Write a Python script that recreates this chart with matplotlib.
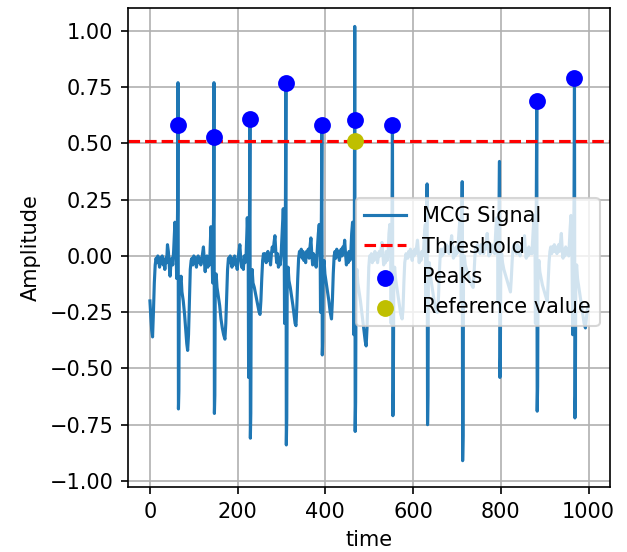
import matplotlib
matplotlib.use("Agg")
import matplotlib.pyplot as plt
import numpy as np

# ---- MCG signal as (time, amplitude) vertices, per beat ----
beat_01 = [(0,-0.20),(2,-0.27),(4,-0.33),(6,-0.36),(8,-0.25),(10,-0.12),(12,-0.04),(14,-0.01),(16,-0.03),(18,0.00),
           (20,-0.02),(22,-0.05),(24,-0.01),(26,-0.03),(28,0.00),(30,-0.04),(32,-0.02),(34,-0.06),(36,-0.01),(38,-0.03),
           (40,0.05),(42,0.02),(44,-0.04),(46,-0.09),(48,-0.03),(50,-0.01),(52,-0.04),(54,0.02),(56,0.10),(57,0.15),
           (59,0.08),(61,-0.10),(62,0.03),(63,0.20),(64,0.77),(65,-0.68),(66,-0.60),(67,-0.10),(69,-0.12),(71,-0.09),
           (73,-0.16),(76,-0.20),(79,-0.26),(82,-0.34),(84,-0.39),(86,-0.42),(88,-0.35),(90,-0.20),(92,-0.06),(94,-0.02)]
beat_02 = [(96,-0.01),(98,-0.04),(100,0.00),(102,-0.02),(104,-0.01),(106,-0.05),(108,-0.02),(110,0.00),(112,-0.03),
           (114,-0.01),(116,-0.04),(118,-0.02),(120,0.01),(122,0.04),(124,-0.02),(126,-0.07),(128,-0.02),(130,0.00),
           (132,-0.05),(134,-0.02),(136,-0.04),(138,0.08),(139,0.13),(141,0.06),(143,-0.12),(144,0.02),(145,0.18),
           (146,0.77),(147,-0.70),(148,-0.62),(149,-0.10),(151,-0.08),(153,-0.14),(156,-0.18),(159,-0.22),(162,-0.28),
           (165,-0.32),(168,-0.35),(171,-0.37),(173,-0.30),(175,-0.18),(177,-0.06),(179,-0.01)]
beat_03 = [(181,-0.03),(183,0.00),(185,-0.02),(187,-0.05),(189,-0.01),(191,-0.03),(193,0.00),(195,-0.04),(197,-0.02),
           (199,-0.06),(201,-0.01),(203,0.02),(205,0.05),(207,-0.01),(209,-0.05),(211,-0.02),(213,-0.06),(215,0.00),
           (217,-0.03),(219,-0.01),(221,0.10),(222,0.17),(224,0.05),(225,-0.54),(226,-0.10),(227,0.20),(228,0.61),
           (229,-0.81),(230,-0.70),(231,-0.12),(233,-0.06),(235,-0.12),(238,-0.14),(241,-0.17),(244,-0.20),(247,-0.23),
           (249,-0.25),(251,-0.26),(253,-0.20),(255,-0.10),(257,-0.02),(259,0.01)]
beat_04 = [(261,-0.02),(263,0.01),(265,-0.03),(267,-0.01),(269,0.02),(271,-0.02),(273,0.00),(275,-0.04),(277,0.01),
           (279,0.04),(281,0.02),(283,0.06),(285,0.09),(287,0.02),(289,-0.03),(291,0.01),(293,-0.05),(295,-0.01),
           (297,-0.04),(299,0.00),(302,0.12),(304,0.21),(306,0.08),(307,-0.30),(308,0.00),(309,0.25),(310,0.77),
           (311,-0.84),(312,-0.72),(313,-0.10),(315,-0.05),(317,-0.11),(320,-0.14),(323,-0.18),(326,-0.22),(329,-0.27),
           (331,-0.30),(333,-0.31),(335,-0.22),(337,-0.10),(339,-0.01),(341,0.02)]
beat_05 = [(343,0.00),(345,0.03),(347,-0.01),(349,0.02),(351,-0.02),(353,0.01),(355,-0.03),(357,0.02),(359,0.00),
           (361,0.03),(363,-0.01),(365,0.04),(367,0.08),(369,0.01),(371,-0.04),(373,0.01),(375,-0.03),(377,0.00),
           (379,-0.05),(381,0.01),(384,0.10),(386,0.14),(388,0.05),(389,-0.25),(390,0.00),(391,0.20),(392,0.58),
           (393,-0.44),(394,-0.38),(395,-0.05),(397,-0.02),(399,-0.08),(402,-0.12),(405,-0.16),(408,-0.20),(411,-0.25),
           (414,-0.28),(416,-0.20),(418,-0.08),(420,0.00)]
beat_06 = [(422,0.02),(424,-0.01),(426,0.03),(428,0.00),(430,0.02),(432,-0.02),(434,0.01),(436,0.03),(438,0.00),
           (440,0.04),(442,0.02),(444,0.07),(446,0.01),(448,-0.04),(450,0.00),(452,-0.03),(454,0.02),(456,-0.02),
           (458,0.01),(460,0.10),(462,0.15),(464,0.05),(465,-0.35),(466,0.05),(467,1.02),(468,-0.78),(469,-0.65),
           (470,-0.10),(472,-0.06),(474,-0.12),(477,-0.16),(480,-0.20),(483,-0.25),(486,-0.30),(489,-0.35),(491,-0.38),
           (493,-0.40),(495,-0.32),(497,-0.18),(499,-0.05),(501,0.00)]
beat_07 = [(503,-0.02),(505,0.01),(507,-0.03),(509,0.00),(511,-0.02),(513,0.02),(515,-0.01),(517,0.01),(519,-0.03),
           (521,0.00),(523,0.02),(525,0.00),(527,0.03),(529,0.06),(531,0.01),(533,-0.04),(535,0.00),(537,-0.03),
           (539,0.02),(541,-0.02),(543,0.01),(545,0.10),(547,0.14),(549,0.04),(550,-0.30),(551,0.02),(552,0.20),
           (553,0.58),(554,-0.71),(555,-0.60),(556,-0.08),(558,-0.05),(560,-0.10),(563,-0.14),(566,-0.18),(569,-0.22),
           (572,-0.26),(575,-0.28),(577,-0.24),(579,-0.12),(581,-0.03),(584,0.01),(586,-0.01)]
beat_08 = [(588,-0.01),(590,0.02),(592,0.00),(594,0.03),(596,0.01),(598,-0.02),(600,0.02),(602,0.00),(604,0.03),
           (606,0.01),(608,0.04),(610,0.07),(612,0.02),(614,-0.03),(616,0.01),(618,-0.02),(620,0.02),(622,0.00),
           (624,0.03),(626,0.10),(628,0.14),(629,-0.20),(630,0.05),(631,0.20),(632,0.32),(633,-0.75),(634,-0.62),
           (635,-0.06),(637,-0.03),(639,-0.08),(642,-0.12),(645,-0.16),(648,-0.20),(651,-0.23),(654,-0.25),(656,-0.25),
           (658,-0.18),(660,-0.07),(662,0.01)]
beat_09 = [(664,0.03),(666,0.00),(668,0.03),(670,0.01),(672,0.04),(674,0.02),(676,0.05),(678,0.02),(680,0.04),
           (682,0.01),(684,0.03),(686,0.06),(688,0.09),(690,0.03),(692,-0.01),(694,0.03),(696,0.00),(698,0.04),
           (700,0.01),(702,0.03),(705,0.12),(707,0.16),(709,0.05),(710,-0.20),(711,0.10),(712,0.33),(713,-0.91),
           (714,-0.80),(715,-0.05),(717,0.00),(719,-0.04),(722,-0.06),(725,-0.08),(728,-0.10),(731,-0.12),(734,-0.13),
           (737,-0.14),(739,-0.08),(741,0.00),(743,0.04)]
beat_10 = [(745,0.02),(747,0.05),(749,0.02),(751,0.04),(753,0.01),(755,0.05),(757,0.02),(759,0.04),(761,0.01),
           (763,0.05),(765,0.03),(767,0.06),(769,0.10),(771,0.04),(773,0.00),(775,0.04),(777,0.01),(779,0.05),
           (781,0.02),(783,0.04),(786,0.01),(789,0.13),(791,0.17),(793,0.06),(794,-0.20),(795,0.08),(796,0.22),
           (797,0.42),(798,-0.54),(799,-0.45),(800,-0.04),(802,0.01),(804,-0.03),(807,-0.06),(810,-0.08),(813,-0.10),
           (816,-0.12),(819,-0.14),(822,-0.16),(824,-0.10),(826,-0.02),(828,0.03)]
beat_11 = [(830,0.05),(832,0.02),(834,0.04),(836,0.01),(838,0.05),(840,0.02),(842,0.04),(844,0.00),(846,0.03),
           (848,0.05),(850,0.02),(852,0.06),(854,0.09),(856,0.03),(858,-0.01),(860,0.03),(862,0.00),(864,0.04),
           (866,0.01),(868,0.03),(871,0.01),(874,0.12),(876,0.18),(878,0.06),(879,-0.30),(880,0.05),(881,0.25),
           (882,0.69),(883,-0.69),(884,-0.58),(885,-0.06),(887,-0.02),(889,-0.07),(892,-0.10),(895,-0.13),(898,-0.15),
           (901,-0.17),(904,-0.19),(906,-0.20),(908,-0.12),(910,-0.03),(912,0.02)]
beat_12 = [(914,0.04),(916,0.01),(918,0.04),(920,0.02),(922,0.05),(924,0.02),(926,0.04),(928,0.01),(930,0.03),
           (932,0.05),(934,0.02),(936,0.06),(938,0.10),(940,0.03),(942,-0.01),(944,0.03),(946,0.00),(948,0.04),
           (950,0.01),(952,0.03),(955,0.00),(958,0.12),(960,0.18),(962,0.06),(964,-0.35),(966,0.05),(967,0.25),
           (968,0.79),(969,-0.72),(970,-0.62),(971,-0.08),(973,-0.04),(975,-0.10),(978,-0.14),(981,-0.18),(984,-0.22),
           (987,-0.26),(990,-0.30),(993,-0.32),(995,-0.28),(997,-0.24),(999,-0.22)]

# ---- detected peaks, threshold and reference value ----
peak_times = [64, 146, 228, 310, 392, 467, 553, 882, 968]
peak_values = [0.58, 0.53, 0.61, 0.77, 0.58, 0.605, 0.58, 0.69, 0.79]
threshold = 0.51
ref_time = [467]
ref_value = [0.51]

beats = [beat_01, beat_02, beat_03, beat_04, beat_05, beat_06,
         beat_07, beat_08, beat_09, beat_10, beat_11, beat_12]
pts = np.array([p for b in beats for p in b])
t, sig = pts[:, 0], pts[:, 1]

DPI = 150
fig = plt.figure(figsize=(627 / DPI, 552 / DPI), dpi=DPI)
ax = fig.add_axes([128/627, 1 - 487/552, (610-128)/627, (487-8)/552])

ax.plot(t, sig, color='C0', label='MCG Signal')
ax.axhline(threshold, color='r', linestyle='--', label='Threshold')
ax.scatter(peak_times, peak_values, color='b', s=50, zorder=3, label='Peaks')
ax.scatter(ref_time, ref_value, color='y', s=50, zorder=4, label='Reference value')

ax.set_xlim(-50, 1049)
ax.set_ylim(-1.027, 1.102)
ax.set_yticks([-1.0, -0.75, -0.5, -0.25, 0.0, 0.25, 0.5, 0.75, 1.0])
ax.set_xticks([0, 200, 400, 600, 800, 1000])
ax.grid(True)
ax.set_xlabel('time')
ax.set_ylabel('Amplitude')
ax.legend(loc='center right', bbox_to_anchor=(1.0, 0.47))

fig.savefig('out.png', dpi=DPI)
